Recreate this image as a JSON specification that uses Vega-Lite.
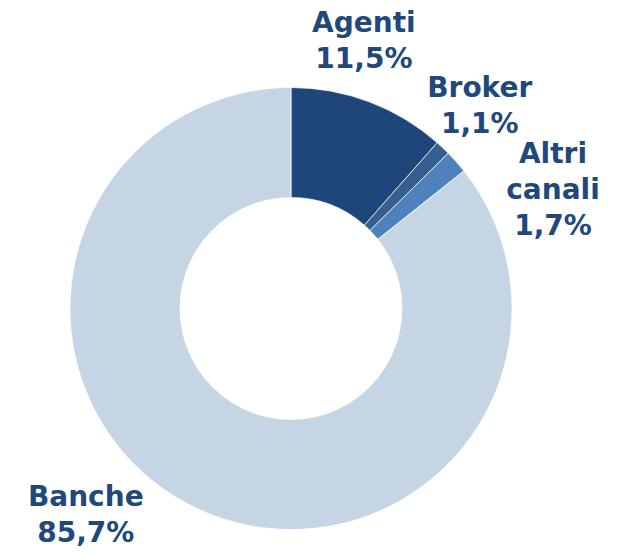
{
  "$schema": "https://vega.github.io/schema/vega-lite/v6.json",
  "width": 582,
  "height": 493,
  "padding": {"left": 0, "top": 62, "right": 37, "bottom": 0},
  "autosize": {"type": "none"},
  "background": "white",
  "config": {"view": {"stroke": null}},
  "data": {
    "values": [
      {"cat": "Agenti", "value": 11.5, "ord": 1, "label": "Agenti\n11,5%"},
      {"cat": "Broker", "value": 1.1, "ord": 2, "label": "Broker\n1,1%"},
      {"cat": "Altri canali", "value": 1.7, "ord": 3, "label": "Altri\ncanali\n1,7%"},
      {"cat": "Banche", "value": 85.7, "ord": 4, "label": "Banche\n85,7%"}
    ]
  },
  "encoding": {
    "theta": {"field": "value", "type": "quantitative", "stack": true},
    "order": {"field": "ord", "type": "quantitative"}
  },
  "layer": [
    {
      "mark": {"type": "arc", "radius": 221, "radius2": 111, "stroke": "white", "strokeWidth": 0.7},
      "encoding": {
        "color": {
          "field": "cat", "type": "nominal", "legend": null,
          "scale": {"domain": ["Agenti", "Broker", "Altri canali", "Banche"], "range": ["#1F467A", "#365F91", "#4F81BD", "#C5D5E4"]}
        }
      }
    },
    {
      "mark": {"type": "text", "radius": 276, "thetaOffset": -0.094, "dy": -18, "font": "DejaVu Sans", "fontWeight": "bold", "fontSize": 28, "lineBreak": "\n", "lineHeight": 36, "align": "center", "baseline": "middle", "color": "#21487A"},
      "encoding": {"text": {"condition": {"test": "datum.cat === 'Agenti'", "field": "label"}, "value": ""}}
    },
    {
      "mark": {"type": "text", "radius": 276, "thetaOffset": -0.004, "dy": -18, "font": "DejaVu Sans", "fontWeight": "bold", "fontSize": 28, "lineBreak": "\n", "lineHeight": 36, "align": "center", "baseline": "middle", "color": "#21487A"},
      "encoding": {"text": {"condition": {"test": "datum.cat === 'Broker'", "field": "label"}, "value": ""}}
    },
    {
      "mark": {"type": "text", "radius": 287, "thetaOffset": 0.305, "dy": -36, "font": "DejaVu Sans", "fontWeight": "bold", "fontSize": 28, "lineBreak": "\n", "lineHeight": 36, "align": "center", "baseline": "middle", "color": "#21487A"},
      "encoding": {"text": {"condition": {"test": "datum.cat === 'Altri canali'", "field": "label"}, "value": ""}}
    },
    {
      "mark": {"type": "text", "radius": 292, "thetaOffset": 0.33, "dy": -18, "font": "DejaVu Sans", "fontWeight": "bold", "fontSize": 28, "lineBreak": "\n", "lineHeight": 36, "align": "center", "baseline": "middle", "color": "#21487A"},
      "encoding": {"text": {"condition": {"test": "datum.cat === 'Banche'", "field": "label"}, "value": ""}}
    }
  ]
}
